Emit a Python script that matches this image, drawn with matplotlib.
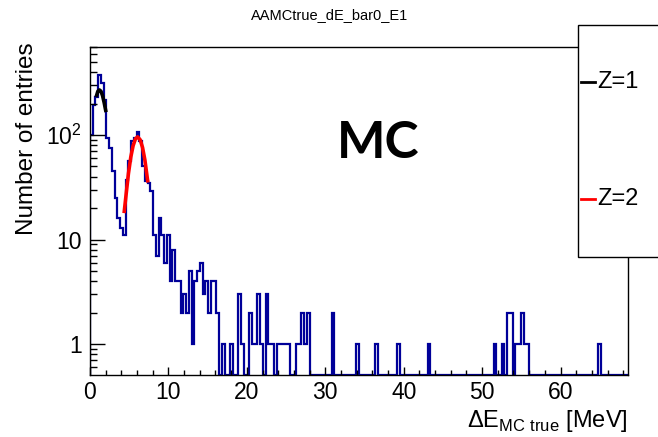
import numpy as np
import matplotlib
matplotlib.use('Agg')
import matplotlib.pyplot as plt
from matplotlib.patches import Rectangle
from matplotlib.lines import Line2D
from matplotlib.ticker import MultipleLocator, LogLocator, FuncFormatter, NullFormatter

plt.rcParams['font.family'] = ['Liberation Sans', 'DejaVu Sans']
plt.rcParams['mathtext.fontset'] = 'custom'
plt.rcParams['mathtext.rm'] = 'Liberation Sans'

# histogram range and bin contents (196 bins, 0.35 MeV wide)
x_lo, x_hi = 0.0, 68.6
counts = [
    100, 195, 230, 375, 315, 215, 93, 75, 45, 25, 16, 13, 11, 37, 56, 87, 93, 107, 88, 50,
    36, 35, 29, 11, 7, 16, 11, 6, 11, 4, 8, 4, 4, 2, 3, 2, 5, 1, 4, 5,
    6, 3, 4, 2, 4, 4, 2, 0, 1, 0, 0, 1, 0, 0, 3, 1, 0, 0, 2, 1,
    1, 3, 1, 0, 3, 1, 1, 0, 1, 1, 1, 1, 1, 0, 0, 1, 1, 2, 1, 2,
    0, 0, 0, 0, 0, 0, 0, 0, 2, 0, 0, 0, 0, 0, 0, 0, 0, 1, 0, 0,
    0, 0, 0, 0, 1, 0, 0, 0, 0, 0, 0, 0, 1, 0, 0, 0, 0, 0, 0, 0,
    0, 0, 0, 1, 0, 0, 0, 0, 0, 0, 0, 0, 0, 0, 0, 0, 0, 0, 0, 0,
    0, 0, 0, 0, 0, 0, 0, 1, 0, 0, 1, 0, 2, 2, 0, 1, 1, 2, 1, 1,
    0, 0, 0, 0, 0, 0, 0, 0, 0, 0, 0, 0, 0, 0, 0, 0, 0, 0, 0, 0,
    0, 0, 0, 0, 0, 1, 0, 0, 0, 0, 0, 0, 0, 0, 0, 0,
]

# fitted curves
fit_z1_x = [0.85, 1.0, 1.2, 1.4, 1.6, 1.8, 2.0]
fit_z1_y = [240, 262, 270, 262, 238, 205, 172]
fit_z2_x = [4.37, 4.6, 4.9, 5.2, 5.5, 5.8, 6.07, 6.4, 6.7, 7.0, 7.35]
fit_z2_y = [18.6, 26.8, 42.7, 61.4, 79.2, 92, 96, 90, 75.9, 57.6, 36.5]

y_lo, y_hi = 0.505, 700

W, H = 658, 437
fig = plt.figure(figsize=(W / 100, H / 100), dpi=100)
ax = fig.add_axes([90 / W, 1 - 375 / H, 538 / W, (375 - 46.7) / H])

edges = np.linspace(x_lo, x_hi, len(counts) + 1)
vals = np.array(counts, dtype=float)
vals[vals <= 0] = y_lo
ax.stairs(vals, edges, color='#000099', lw=1.6, baseline=y_lo)

ax.plot(fit_z1_x, fit_z1_y, color='black', lw=2.6)
ax.plot(fit_z2_x, fit_z2_y, color='#ff0000', lw=2.6)

ax.set_xlim(x_lo, x_hi)
ax.set_yscale('log')
ax.set_ylim(y_lo, y_hi)

ax.xaxis.set_major_locator(MultipleLocator(10))
ax.xaxis.set_minor_locator(MultipleLocator(2))
ax.yaxis.set_major_locator(LogLocator(base=10, numticks=10))
ax.yaxis.set_minor_locator(LogLocator(base=10, subs=np.arange(2, 10), numticks=20))
ylab = {1: '1', 10: '10', 100: r'$\mathregular{10^{2}}$'}
ax.yaxis.set_major_formatter(FuncFormatter(lambda v, p: ylab.get(int(round(v)), '')))
ax.yaxis.set_minor_formatter(NullFormatter())

ax.tick_params(which='both', direction='in', top=False, right=False, labelsize=16.5, width=1)
ax.tick_params(axis='x', which='major', length=6, pad=4)
ax.tick_params(axis='x', which='minor', length=3.5)
ax.tick_params(axis='y', which='major', length=11, pad=6)
ax.tick_params(axis='y', which='minor', length=5)
for s in ax.spines.values():
    s.set_linewidth(1)

fig.text(628 / W, 1 - 427 / H, 'ΔE$_{\\mathregular{MC\\ true}}$ [MeV]', ha='right', va='baseline', fontsize=17)
fig.text(27 / W, 1 - 42 / H, 'Number of entries', rotation=90, ha='center', va='top', fontsize=17.5)
fig.text(330 / W, 1 - 15 / H, 'AAMCtrue_dE_bar0_E1', ha='center', va='center', fontsize=10.5)
fig.text(378 / W, 1 - 143 / H, 'MC', ha='center', va='center', fontsize=37,
         fontweight='bold', family='Lato')

# legend box, running off the right edge like the original
fig.add_artist(Rectangle((578 / W, 1 - 257 / H), 200 / W, 232 / H, transform=fig.transFigure,
                         facecolor='white', edgecolor='black', lw=1, zorder=5))
for yy, col, lab in [(82, 'black', 'Z=1'), (199, '#ff0000', 'Z=2')]:
    fig.add_artist(Line2D([581 / W, 595 / W], [1 - yy / H, 1 - yy / H], color=col, lw=2,
                          transform=fig.transFigure, zorder=6))
    fig.text(597 / W, 1 - yy / H, lab, ha='left', va='center', fontsize=17, zorder=6)

fig.savefig('out.png', dpi=100)
